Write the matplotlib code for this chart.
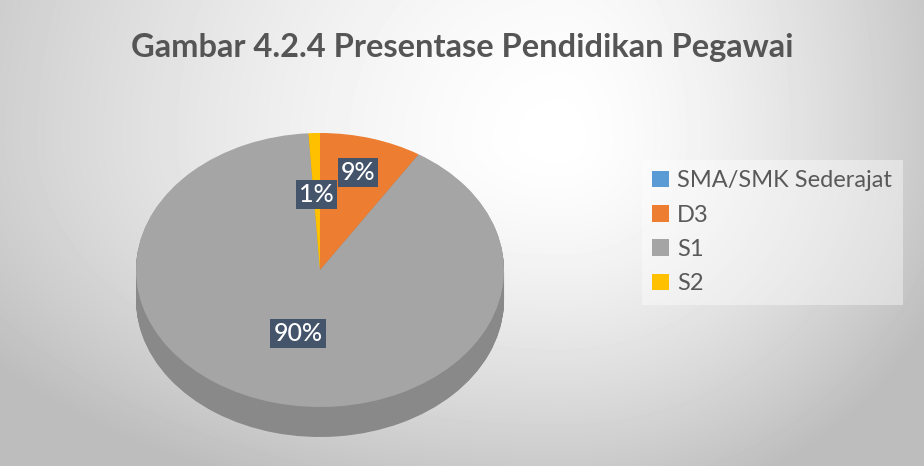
import numpy as np
import matplotlib.pyplot as plt
from matplotlib.colors import to_rgb

# data
categories = ['SMA/SMK Sederajat', 'D3', 'S1', 'S2']
values = [0, 9, 90, 1]
colors = ['#5B9BD5', '#ED7D31', '#A5A5A5', '#FFC000']
label_dist = [0.0, 0.74, 0.48, 0.55]  # how far from centre each % label sits

plt.rcParams['font.family'] = ['Lato', 'DejaVu Sans']

W, H = 924, 474
fig = plt.figure(figsize=(W / 100, H / 100), dpi=100)

# radial grey background, white near the top middle
bg = fig.add_axes([0, 0, 1, 1], zorder=-10)
yy, xx = np.mgrid[0:H, 0:W]
dx = xx - 560.0
dy = yy - 140.0
rx = np.where(dx < 0, 700, 420)
ry = np.where(dy < 0, 700, 380)
d = np.sqrt((dx / rx) ** 2 + (dy / ry) ** 2)
v = 1 - 0.26 * np.clip(d, 0, 1) ** 1.5
v[466:] = 1.0
bg.imshow(v, cmap='gray', vmin=0, vmax=1, extent=(0, W, H, 0),
          aspect='auto', interpolation='bilinear')
bg.set_xlim(0, W)
bg.set_ylim(H, 0)
bg.axis('off')

# pie axes: top face ellipse 368 x 274 px, 30 px of side depth
depth = 30 / 137
ax = fig.add_axes([136 / W, (H - 437) / H, 368 / W, 304 / H])

side_colors = [tuple(c * 0.83 for c in to_rgb(col)) for col in colors]
n_layers = 40
for k in range(n_layers):
    off = -depth * (1 - k / n_layers)
    ax.pie(values, colors=side_colors, startangle=90, counterclock=False,
           center=(0, off), radius=1, wedgeprops=dict(linewidth=0))

wedges, _ = ax.pie(values, colors=colors, startangle=90, counterclock=False,
                   center=(0, 0), radius=1, wedgeprops=dict(linewidth=0))

ax.set_aspect('auto')
ax.set_xlim(-1, 1)
ax.set_ylim(-1 - depth, 1)
ax.axis('off')

for w, val, dist in zip(wedges, values, label_dist):
    if val == 0:
        continue
    ang = np.deg2rad((w.theta1 + w.theta2) / 2)
    ax.text(dist * np.cos(ang), dist * np.sin(ang), '{}%'.format(val),
            ha='center', va='center', color='white', fontsize=18,
            fontweight='medium',
            bbox=dict(boxstyle='square,pad=0.12', fc='#44546A', ec='none'))

fig.text(0.5, 1 - 47 / H, 'Gambar 4.2.4 Presentase Pendidikan Pegawai',
         ha='center', va='center', fontsize=23.5, fontweight='bold',
         color='#555555')

fig.legend(wedges, categories, loc='upper left',
           bbox_to_anchor=(630 / W, 1 - 148 / H), frameon=True,
           facecolor='white', framealpha=0.4, edgecolor='none',
           fancybox=False, fontsize=17, labelcolor='#595959',
           handlelength=0.7, handleheight=0.7, handletextpad=0.35,
           labelspacing=0.56, borderpad=0.45)

fig.savefig('out.png', dpi=100)
